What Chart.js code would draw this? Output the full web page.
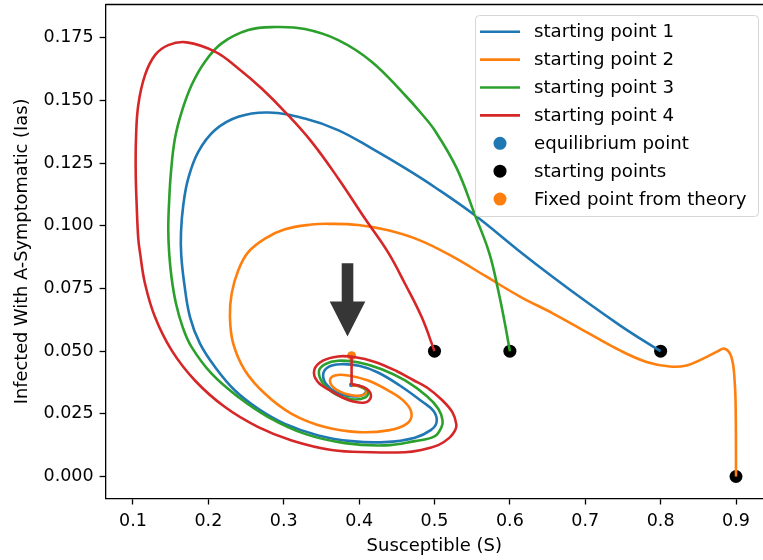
<!DOCTYPE html>
<html>
<head>
<meta charset="utf-8">
<script src="https://cdn.jsdelivr.net/npm/chart.js@4.4.1/dist/chart.umd.min.js"></script>
<style>
  body { margin: 0; background: #fff; }
  canvas { display: block; }
</style>
</head>
<body>
<canvas id="phase" width="763" height="560" style="width:763px;height:560px"></canvas>
<script>
// trajectories, [S, Ias] pairs
var traj1 = [[0.8,0.05],[0.773,0.055],[0.746,0.0603],[0.702,0.0696],[0.657,0.0796],[0.611,0.0903],[0.5536,0.1042],[0.5005,0.1154],[0.461,0.123],[0.4166,0.1309],[0.372,0.1382],[0.328,0.1428],[0.2795,0.1452],[0.2397,0.1435],[0.2088,0.1382],[0.1866,0.1295],[0.1733,0.1189],[0.1667,0.1082],[0.1637,0.0976],[0.164,0.0883],[0.168,0.077],[0.1756,0.0636],[0.1889,0.053],[0.2088,0.0437],[0.2353,0.0343],[0.2662,0.027],[0.3016,0.021],[0.3458,0.0164],[0.39,0.0141],[0.4342,0.0137],[0.474,0.0155],[0.495,0.0185],[0.5028,0.0217],[0.499,0.026],[0.483,0.030],[0.454,0.0363],[0.425,0.0415],[0.40,0.0442],[0.375,0.0448],[0.36,0.0438],[0.3524,0.041],[0.356,0.037],[0.37,0.0335],[0.39,0.032],[0.405,0.0325],[0.409,0.0345],[0.398,0.0362],[0.39,0.0366]];
var traj2 = [[0.9,0.0],[0.8997,0.0237],[0.8984,0.037],[0.894,0.0476],[0.8851,0.051],[0.8741,0.0497],[0.8564,0.047],[0.8343,0.0443],[0.8122,0.0439],[0.7813,0.0457],[0.7459,0.0503],[0.7017,0.0576],[0.6574,0.065],[0.6133,0.0718],[0.569,0.0797],[0.5248,0.0876],[0.4806,0.0942],[0.4386,0.0982],[0.3988,0.1003],[0.36,0.1008],[0.337,0.1005],[0.3016,0.0986],[0.2751,0.0949],[0.2529,0.0895],[0.2397,0.0823],[0.2309,0.073],[0.2286,0.0636],[0.233,0.053],[0.2485,0.0423],[0.2751,0.033],[0.3105,0.025],[0.3546,0.0197],[0.3988,0.0177],[0.4386,0.0184],[0.463,0.021],[0.4696,0.025],[0.4607,0.0297],[0.4386,0.0343],[0.412,0.0383],[0.3855,0.0403],[0.368,0.0403],[0.3613,0.0383],[0.368,0.035],[0.3855,0.0327],[0.403,0.0323],[0.41,0.034],[0.401,0.0359],[0.392,0.0363],[0.39,0.0366]];
var traj3 = [[0.6,0.05],[0.5934,0.061],[0.5845,0.0743],[0.5725,0.0893],[0.5537,0.1043],[0.5294,0.123],[0.5005,0.138],[0.4806,0.1455],[0.4607,0.1522],[0.4166,0.1655],[0.3723,0.1741],[0.3281,0.1785],[0.2883,0.1793],[0.2529,0.1781],[0.2176,0.1728],[0.1955,0.1655],[0.1778,0.1562],[0.1646,0.1455],[0.1557,0.1349],[0.1504,0.1215],[0.1477,0.1082],[0.1468,0.0985],[0.148,0.089],[0.1513,0.079],[0.157,0.069],[0.166,0.0595],[0.1778,0.0516],[0.2043,0.041],[0.2397,0.0317],[0.2794,0.0237],[0.3281,0.017],[0.3812,0.0133],[0.4342,0.0124],[0.474,0.0141],[0.5,0.016],[0.509,0.0195],[0.5107,0.0224],[0.505,0.027],[0.49,0.032],[0.461,0.0383],[0.43,0.0428],[0.40,0.0455],[0.372,0.0462],[0.355,0.0448],[0.3467,0.042],[0.352,0.0372],[0.368,0.033],[0.39,0.0308],[0.408,0.0315],[0.412,0.034],[0.40,0.0362],[0.39,0.0366]];
var traj4 = [[0.5,0.05],[0.483,0.0636],[0.4607,0.077],[0.4386,0.0893],[0.4077,0.1029],[0.3723,0.1189],[0.337,0.1335],[0.3038,0.1448],[0.2707,0.1548],[0.2397,0.1628],[0.2088,0.1695],[0.1712,0.1732],[0.1468,0.1721],[0.1292,0.1681],[0.1159,0.1601],[0.107,0.1482],[0.104,0.1349],[0.1036,0.1215],[0.1049,0.1082],[0.107,0.0949],[0.1093,0.0893],[0.1159,0.077],[0.1292,0.0636],[0.1513,0.0503],[0.1822,0.0383],[0.222,0.0277],[0.2662,0.0197],[0.3105,0.0144],[0.3635,0.0106],[0.4165,0.0097],[0.4607,0.0097],[0.4806,0.0105],[0.505,0.0125],[0.52,0.0155],[0.5275,0.0185],[0.529,0.0208],[0.524,0.0255],[0.51,0.0305],[0.49,0.0355],[0.4717,0.0385],[0.45,0.042],[0.42,0.0458],[0.395,0.0476],[0.372,0.0479],[0.352,0.0462],[0.3405,0.0425],[0.345,0.0378],[0.3635,0.034],[0.3855,0.0305],[0.4077,0.0295],[0.4157,0.0318],[0.41,0.035],[0.3944,0.0366],[0.39,0.0366]];
// red stroke from equilibrium up to the theoretical point
var linkSeg = [[0.39,0.0366],[0.39,0.0478]];

var trajLabels = ['starting point 1','starting point 2','starting point 3','starting point 4'];
var trajColors = ['#1f77b4','#ff7f0e','#2ca02c','#d62728'];

var equilibrium = [[0.39,0.0366]];
var startPoints = [[0.8,0.05],[0.9,0.0],[0.6,0.05],[0.5,0.05]];
var fixedPoint = [[0.39,0.0482]];

var xTicks = [0.1,0.2,0.3,0.4,0.5,0.6,0.7,0.8,0.9];
var yTicks = [0,0.025,0.05,0.075,0.1,0.125,0.15,0.175];

// annotation arrow (tail, tip) in data units
var arrowTail = [0.3846,0.0851];
var arrowTip = [0.3846,0.0558];

function pts(a) { return a.map(function(p){ return {x:p[0], y:p[1]}; }); }

Chart.defaults.font.family = "'DejaVu Sans', sans-serif";
Chart.defaults.font.size = 17.5;
Chart.defaults.color = '#000';

var trajs = [traj1, traj2, traj3, traj4];
var datasets = trajs.map(function(t, i) {
    return {
        label: trajLabels[i],
        data: pts(t),
        showLine: true,
        borderColor: trajColors[i],
        backgroundColor: trajColors[i],
        borderWidth: 2.6,
        borderJoinStyle: 'round',
        tension: 0.4,
        pointRadius: 0,
        pointHoverRadius: 0,
        order: 5 - i,
        legendKind: 'line'
    };
});
datasets.push({
    label: '',
    data: pts(linkSeg),
    showLine: true,
    borderColor: '#d62728',
    borderWidth: 2.6,
    pointRadius: 0,
    order: 1
});
datasets.push({
    label: 'equilibrium point', data: pts(equilibrium),
    pointRadius: 2.5, backgroundColor: '#1f77b4', borderWidth: 0, order: 12, legendKind: 'dot'
});
datasets.push({
    label: 'starting points', data: pts(startPoints),
    pointRadius: 6.5, backgroundColor: '#000', borderWidth: 0, order: 11, legendKind: 'dot'
});
datasets.push({
    label: 'Fixed point from theory', data: pts(fixedPoint),
    pointRadius: 4.5, backgroundColor: '#ff7f0e', borderWidth: 0, order: 10, legendKind: 'dot'
});

var framePlugin = {
    id: 'frame',
    afterDraw: function(chart) {
        var ctx = chart.ctx, a = chart.chartArea;
        ctx.save();
        ctx.strokeStyle = '#000';
        ctx.lineWidth = 1.3;
        ctx.beginPath();
        ctx.moveTo(a.left, a.top);
        ctx.lineTo(a.right, a.top);
        ctx.stroke();
        ctx.restore();
    }
};

var arrowPlugin = {
    id: 'arrow',
    afterDatasetsDraw: function(chart) {
        var ctx = chart.ctx, xs = chart.scales.x, ys = chart.scales.y;
        var tx = xs.getPixelForValue(arrowTail[0]), ty = ys.getPixelForValue(arrowTail[1]);
        var hx = xs.getPixelForValue(arrowTip[0]), hy = ys.getPixelForValue(arrowTip[1]);
        var headLen = 35, shaftW = 11.6, headW = 35.6;
        var baseY = hy - headLen;
        ctx.save();
        ctx.fillStyle = '#363636';
        ctx.beginPath();
        ctx.moveTo(tx - shaftW / 2, ty);
        ctx.lineTo(tx + shaftW / 2, ty);
        ctx.lineTo(tx + shaftW / 2, baseY);
        ctx.lineTo(hx + headW / 2, baseY);
        ctx.lineTo(hx, hy);
        ctx.lineTo(hx - headW / 2, baseY);
        ctx.lineTo(tx - shaftW / 2, baseY);
        ctx.closePath();
        ctx.fill();
        ctx.restore();
    }
};

var legendPlugin = {
    id: 'boxLegend',
    afterDraw: function(chart) {
        var ctx = chart.ctx;
        var bx = 475, by = 15, bw = 283, bh = 201, r = 4;
        ctx.save();
        ctx.beginPath();
        ctx.roundRect(bx + 0.5, by + 0.5, bw, bh, r);
        ctx.fillStyle = 'rgba(255,255,255,0.8)';
        ctx.fill();
        ctx.strokeStyle = '#d6d6d6';
        ctx.lineWidth = 1;
        ctx.stroke();
        var items = chart.data.datasets.filter(function(d){ return d.legendKind; });
        ctx.font = "18.2px 'DejaVu Sans'";
        ctx.textBaseline = 'middle';
        items.forEach(function(d, i) {
            var cy = by + 16.7 + i * 27.9;
            if (d.legendKind === 'line') {
                ctx.strokeStyle = d.borderColor;
                ctx.lineWidth = 2.6;
                ctx.beginPath();
                ctx.moveTo(480, cy);
                ctx.lineTo(520, cy);
                ctx.stroke();
            } else {
                ctx.fillStyle = d.backgroundColor;
                ctx.beginPath();
                ctx.arc(500, cy, 6.5, 0, Math.PI * 2);
                ctx.fill();
            }
            ctx.fillStyle = '#000';
            ctx.fillText(d.label, 534, cy + 1);
        });
        ctx.restore();
    }
};

new Chart(document.getElementById('phase').getContext('2d'), {
    type: 'scatter',
    data: { datasets: datasets },
    options: {
        responsive: false,
        animation: false,
        events: [],
        layout: { autoPadding: false, padding: { left: 0, top: 4.5, right: 0, bottom: 0 } },
        plugins: { legend: { display: false }, tooltip: { enabled: false } },
        scales: {
            x: {
                type: 'linear',
                min: 0.06365,
                max: 0.93582,
                afterBuildTicks: function(s) { s.ticks = xTicks.map(function(v){ return {value: v}; }); },
                afterFit: function(s) { s.height = 61.5; s.paddingLeft = 0; s.paddingRight = 0; },
                ticks: { padding: 6, callback: function(v) { return v.toFixed(1); } },
                grid: { drawOnChartArea: false, drawTicks: true, tickLength: 6, color: '#000', tickWidth: 1.3 },
                border: { display: true, color: '#000', width: 1.3 },
                title: { display: true, text: 'Susceptible (S)', font: { size: 18 }, padding: { top: 0, bottom: 3 } }
            },
            y: {
                type: 'linear',
                min: -0.00878,
                max: 0.1883,
                afterBuildTicks: function(s) { s.ticks = yTicks.map(function(v){ return {value: v}; }); },
                afterFit: function(s) { s.width = 105.6; s.paddingTop = 0; s.paddingBottom = 0; },
                ticks: { padding: 6, callback: function(v) { return v.toFixed(3); } },
                grid: { drawOnChartArea: false, drawTicks: true, tickLength: 6, color: '#000', tickWidth: 1.3 },
                border: { display: true, color: '#000', width: 1.3 },
                title: { display: true, text: 'Infected With A-Symptomatic (Ias)', font: { size: 17.8 }, padding: { top: 12, bottom: 0 } }
            }
        }
    },
    plugins: [framePlugin, arrowPlugin, legendPlugin]
});
</script>
</body>
</html>
